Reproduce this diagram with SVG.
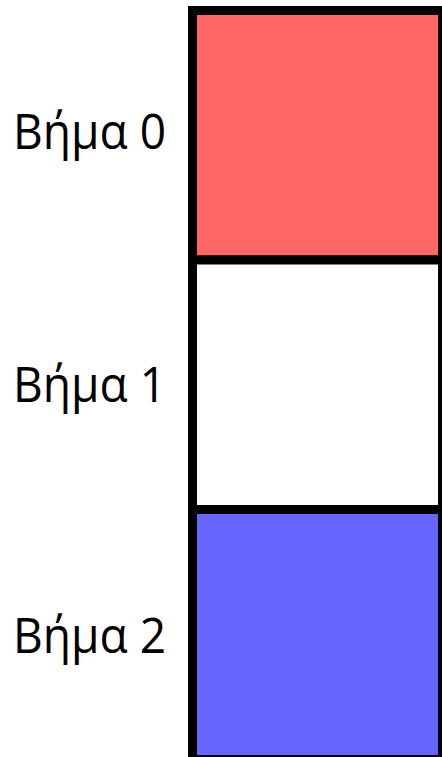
<svg xmlns="http://www.w3.org/2000/svg" width="442" height="757" viewBox="0 0 442 757">
<style>
.lbl{font-family:"Open Sans","Noto Sans","Liberation Sans",sans-serif;font-size:49px;fill:#000}
.cell{stroke:#000;stroke-width:9}
</style>
<rect x="0" y="0" width="442" height="757" fill="#fff"/>
<g id="step0">
<rect class="cell" x="192.5" y="10.5" width="250" height="249.5" fill="#ff6666"/>
<text class="lbl" x="13" y="149" textLength="153" lengthAdjust="spacingAndGlyphs">Βήμα 0</text>
</g>
<g id="step1">
<rect class="cell" x="192.5" y="260" width="250" height="249.5" fill="#ffffff"/>
<text class="lbl" x="13" y="402" textLength="153" lengthAdjust="spacingAndGlyphs">Βήμα 1</text>
</g>
<g id="step2">
<rect class="cell" x="192.5" y="509.5" width="250" height="250" fill="#6666ff"/>
<text class="lbl" x="13" y="653" textLength="153" lengthAdjust="spacingAndGlyphs">Βήμα 2</text>
</g>
<g id="connectors"></g>
</svg>
